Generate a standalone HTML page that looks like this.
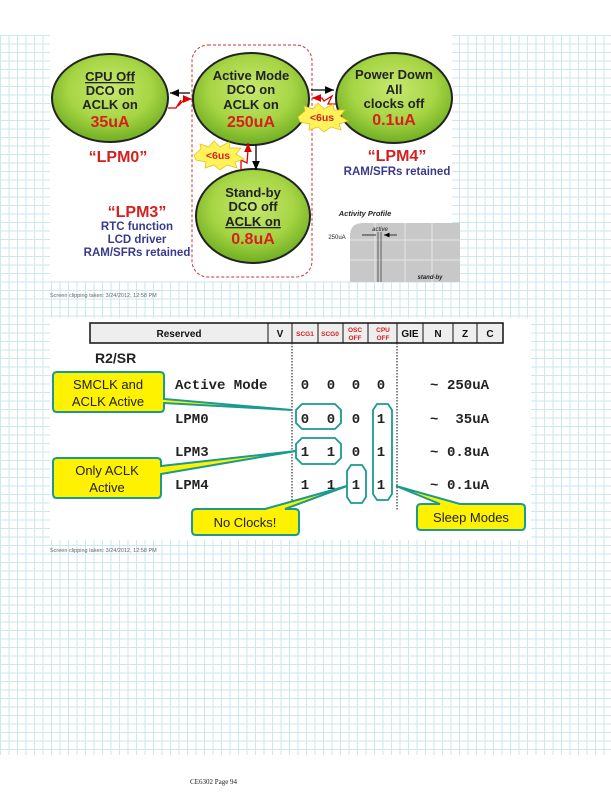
<!DOCTYPE html>
<html><head><meta charset="utf-8"><style>
html,body{margin:0;padding:0;background:#fff;}
svg{display:block;}
text{font-family:"Liberation Sans",sans-serif;}
.m{font-family:"Liberation Mono",monospace;font-weight:bold;font-size:14px;fill:#222;}
</style></head><body>
<svg width="611" height="792" viewBox="0 0 611 792" xmlns="http://www.w3.org/2000/svg">
<defs>
<pattern id="g" width="8.5" height="8.5" patternUnits="userSpaceOnUse" x="0" y="35">
<path d="M0 0.5H8.5M0.5 0V8.5" stroke="#cde6f2" stroke-width="1" fill="none"/>
</pattern>
<radialGradient id="eg" cx="50%" cy="40%" r="60%">
<stop offset="0" stop-color="#c8e870"/><stop offset="0.6" stop-color="#a6d544"/><stop offset="1" stop-color="#6fae22"/>
</radialGradient>
<marker id="ab" markerWidth="8" markerHeight="8" refX="7" refY="4" orient="auto"><path d="M0 1L7 4L0 7z" fill="#000"/></marker>
<marker id="ar" markerWidth="8" markerHeight="8" refX="7" refY="4" orient="auto"><path d="M0 1L7 4L0 7z" fill="#d00"/></marker>
</defs>
<rect x="0" y="35" width="611" height="720" fill="url(#g)"/>
<!-- image 1 -->
<rect x="50" y="35" width="402" height="246" fill="#fff"/>
<rect x="192" y="45" width="120" height="232" rx="16" fill="none" stroke="#c33" stroke-width="1" stroke-dasharray="3,2"/>
<g stroke="#222" stroke-width="2" fill="url(#eg)">
<ellipse cx="110" cy="98" rx="58" ry="44"/>
<ellipse cx="251" cy="99" rx="58" ry="46"/>
<ellipse cx="394" cy="98" rx="58" ry="45"/>
<ellipse cx="253" cy="216" rx="57" ry="47"/>
</g>
<g font-weight="bold" font-size="13" fill="#222" text-anchor="middle">
<text x="110" y="81" text-decoration="underline">CPU Off</text>
<text x="110" y="95">DCO on</text><text x="110" y="109">ACLK on</text>
<text x="251" y="80">Active Mode</text><text x="251" y="94">DCO on</text><text x="251" y="109">ACLK on</text>
<text x="394" y="79">Power Down</text><text x="394" y="94">All</text><text x="394" y="108">clocks off</text>
<text x="253" y="197">Stand-by</text><text x="253" y="211">DCO off</text><text x="253" y="226" text-decoration="underline">ACLK on</text>
</g>
<g font-weight="bold" font-size="16" fill="#d62020" text-anchor="middle">
<text x="110" y="127">35uA</text><text x="251" y="127">250uA</text><text x="394" y="125">0.1uA</text><text x="253" y="244">0.8uA</text>
<text x="118" y="162">“LPM0”</text><text x="397" y="161">“LPM4”</text><text x="137" y="217">“LPM3”</text>
</g>
<g font-weight="bold" font-size="11.5" fill="#3a3a8c" text-anchor="middle">
<text x="397" y="175">RAM/SFRs retained</text>
<text x="137" y="230">RTC function</text><text x="137" y="243">LCD driver</text><text x="137" y="256">RAM/SFRs retained</text>
</g>
<!-- arrows -->
<line x1="190" y1="93" x2="170" y2="93" stroke="#000" stroke-width="1.3" marker-end="url(#ab)"/>
<polyline points="168,108 176,108 181,100 178,106 185,99 192,99" fill="none" stroke="#d00" stroke-width="1.3" marker-end="url(#ar)"/>
<line x1="311" y1="90" x2="334" y2="90" stroke="#000" stroke-width="1.3" marker-end="url(#ab)"/>
<polyline points="336,104 328,104 332,96 324,101 322,98 312,98" fill="none" stroke="#d00" stroke-width="1.3" marker-end="url(#ar)"/>
<line x1="256" y1="145" x2="256" y2="170" stroke="#000" stroke-width="1.3" marker-end="url(#ab)"/>
<polyline points="241,170 241,160 247,163 248,150 248,143" fill="none" stroke="#d00" stroke-width="1.3" marker-end="url(#ar)"/>
<g fill="#fff35a" stroke="#e8c020" stroke-width="0.8">
<polygon points="298,117 305,111 304,106 313,109 318,103 324,109 333,104 334,110 345,110 340,116 348,121 339,124 341,130 331,127 324,132 318,127 309,130 310,124 300,122"/>
<polygon points="194,155 201,149 200,144 209,147 214,141 220,147 229,142 230,148 241,148 236,154 244,159 235,162 237,168 227,165 220,170 214,165 205,168 206,162 196,160"/>
</g>
<g font-weight="bold" font-size="10.5" fill="#d62020" text-anchor="middle">
<text x="322" y="121">&lt;6us</text><text x="218" y="159">&lt;6us</text>
</g>
<text x="365" y="216" font-size="7.5" font-style="italic" font-weight="bold" fill="#222" text-anchor="middle">Activity Profile</text>
<path d="M350 282V236Q350 223 363 223H460V282z" fill="#c8c8c8"/>
<g stroke="#e6e6e6" stroke-width="1"><path d="M350 240H460M350 260H460M375 223V282M405 223V282M432 223V282"/></g>
<path d="M378 232V282M381 232V282" stroke="#444" stroke-width="0.8"/>
<path d="M362 235H376M397 235H384" stroke="#000" stroke-width="0.8" marker-end="url(#ab)"/>
<text x="380" y="231" font-size="6" font-style="italic" fill="#222" text-anchor="middle">active</text>
<text x="337" y="239" font-size="6" fill="#222" text-anchor="middle">250uA</text>
<text x="430" y="279" font-size="6" font-style="italic" font-weight="bold" fill="#222" text-anchor="middle">stand-by</text>
<text x="50" y="297" font-size="5.5" fill="#666">Screen clipping taken: 3/24/2012, 12:58 PM</text>
<!-- image 2 -->
<rect x="50" y="318" width="481" height="222" fill="#fff"/>
<rect x="90" y="323" width="413" height="20" fill="#eee" stroke="#111" stroke-width="1.5"/>
<g stroke="#111" stroke-width="1"><path d="M268 323V343M292 323V343M318 323V343M343 323V343M368 323V343M397 323V343M423 323V343M453 323V343M477 323V343"/></g>
<g font-weight="bold" font-size="10" fill="#111" text-anchor="middle">
<text x="179" y="337">Reserved</text><text x="280" y="337">V</text><text x="410" y="337">GIE</text><text x="438" y="337">N</text><text x="465" y="337">Z</text><text x="490" y="337">C</text>
</g>
<g font-weight="bold" font-size="6.5" fill="#d62020" text-anchor="middle">
<text x="305" y="336">SCG1</text><text x="330" y="336">SCG0</text>
<text x="355" y="332">OSC</text><text x="355" y="340">OFF</text><text x="383" y="332">CPU</text><text x="383" y="340">OFF</text>
</g>
<path d="M292 343V510M397 343V510" stroke="#333" stroke-width="1.2" stroke-dasharray="1.5,1.5"/>
<text x="95" y="363" font-weight="bold" font-size="14" fill="#222">R2/SR</text>
<text class="m" x="175" y="389">Active Mode</text><text class="m" x="175" y="423">LPM0</text><text class="m" x="175" y="456">LPM3</text><text class="m" x="175" y="489">LPM4</text>
<g text-anchor="middle">
<text class="m" x="305" y="389">0</text><text class="m" x="331" y="389">0</text><text class="m" x="356" y="389">0</text><text class="m" x="381" y="389">0</text>
<text class="m" x="305" y="423">0</text><text class="m" x="331" y="423">0</text><text class="m" x="356" y="423">0</text><text class="m" x="381" y="423">1</text>
<text class="m" x="305" y="456">1</text><text class="m" x="331" y="456">1</text><text class="m" x="356" y="456">0</text><text class="m" x="381" y="456">1</text>
<text class="m" x="305" y="489">1</text><text class="m" x="331" y="489">1</text><text class="m" x="356" y="489">1</text><text class="m" x="381" y="489">1</text>
</g>
<text class="m" x="430" y="389">~</text><text class="m" x="430" y="423">~</text><text class="m" x="430" y="456">~</text><text class="m" x="430" y="489">~</text>
<g text-anchor="end">
<text class="m" x="489" y="389">250uA</text><text class="m" x="489" y="423">35uA</text><text class="m" x="489" y="456">0.8uA</text><text class="m" x="489" y="489">0.1uA</text>
</g>
<g fill="none" stroke="#1a9a90" stroke-width="1.8">
<polygon points="302,404 335,404 341,410 341,423 335,429 302,429 296,423 296,410"/>
<polygon points="302,438 335,438 341,444 341,458 335,464 302,464 296,458 296,444"/>
<polygon points="351,465 362,465 366,471 366,497 362,503 351,503 347,497 347,471"/>
<polygon points="377,404 388,404 392,410 392,494 388,500 377,500 373,494 373,410"/>
</g>
<g fill="#fff200" stroke="#1a9a90" stroke-width="2">
<path d="M57 372H160Q164 372 164 376V399L292 410L164 403V408Q164 412 160 412H57Q53 412 53 408V376Q53 372 57 372Z"/>
<path d="M57 458H157Q161 458 161 462V466L296 451L161 474V494Q161 498 157 498H57Q53 498 53 494V462Q53 458 57 458Z"/>
<path d="M196 509H265L347 486L285 509H295Q299 509 299 513V531Q299 535 295 535H196Q192 535 192 531V513Q192 509 196 509Z"/>
<path d="M421 504H440L396 486L460 504H521Q525 504 525 508V526Q525 530 521 530H421Q417 530 417 526V508Q417 504 421 504Z"/>
</g>
<g font-size="13" fill="#222" text-anchor="middle">
<text x="108" y="389">SMCLK and</text><text x="108" y="406">ACLK Active</text>
<text x="107" y="475">Only ACLK</text><text x="107" y="492">Active</text>
<text x="245" y="527">No Clocks!</text><text x="471" y="522">Sleep Modes</text>
</g>
<text x="50" y="552" font-size="5.5" fill="#666">Screen clipping taken: 3/24/2012, 12:58 PM</text>
<text x="190" y="784" style="font-family:'Liberation Serif',serif;font-size:7px;fill:#222">CE6302 Page 94</text>
</svg>
</body></html>
